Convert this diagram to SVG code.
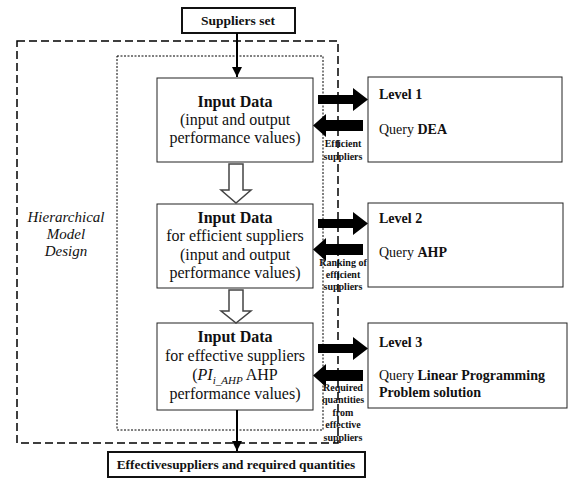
<svg xmlns="http://www.w3.org/2000/svg" width="570" height="479" viewBox="0 0 570 479">
<defs>
<style>
text{font-family:"Liberation Serif","Times New Roman",serif;fill:#111}
.box{fill:#fff;stroke:#222;stroke-width:1}
.tbox{fill:#fff;stroke:#111;stroke-width:2}
.t16{font-size:16px;text-anchor:middle}
.t14{font-size:14px}
.b{font-weight:bold}
.lbl{font-size:10px;font-weight:bold;text-anchor:middle}
.hollow{fill:#fff;stroke:#444;stroke-width:1.5}
.block{fill:#000}
.line{stroke:#000;stroke-width:2;fill:none}
</style>
<marker id="ah" viewBox="0 0 10 10" refX="10" refY="5" markerWidth="5" markerHeight="5" orient="auto" markerUnits="strokeWidth">
<path d="M0,0 L10,5 L0,10 Z" fill="#000"/>
</marker>
</defs>
<rect width="570" height="479" fill="#fff"/>

<g id="containers">
<rect x="17" y="41" width="321" height="402" fill="none" stroke="#000" stroke-width="1.5" stroke-dasharray="8,4"/>
<rect x="117" y="56" width="206" height="374" fill="none" stroke="#000" stroke-width="1" stroke-dasharray="2,1.5"/>
</g>

<g id="hierarchical-label">
<text x="66" y="222" font-size="15" font-style="italic" text-anchor="middle">Hierarchical</text>
<text x="66" y="239" font-size="15" font-style="italic" text-anchor="middle">Model</text>
<text x="66" y="256" font-size="15" font-style="italic" text-anchor="middle">Design</text>
</g>

<g id="suppliers-set">
<rect class="tbox" x="182" y="8" width="113" height="25"/>
<text x="238" y="25" font-size="13.5" class="b" text-anchor="middle">Suppliers set</text>
</g>

<g id="input1">
<rect class="box" x="157" y="78" width="156" height="84"/>
<text class="t16 b" x="235" y="107">Input Data</text>
<text class="t16" x="235" y="125">(input and output</text>
<text class="t16" x="235" y="143">performance values)</text>
</g>

<g id="input2">
<rect class="box" x="157" y="204" width="156" height="84"/>
<text class="t16 b" x="235" y="223">Input Data</text>
<text class="t16" x="235" y="241">for efficient suppliers</text>
<text class="t16" x="235" y="260">(input and output</text>
<text class="t16" x="235" y="278">performance values)</text>
</g>

<g id="input3">
<rect class="box" x="157" y="323" width="156" height="87"/>
<text class="t16 b" x="235" y="342">Input Data</text>
<text class="t16" x="235" y="361">for effective suppliers</text>
<text class="t16" x="235" y="380">(<tspan font-style="italic">PI</tspan><tspan font-style="italic" font-size="11" dy="4">i_AHP</tspan><tspan dy="-4"> AHP</tspan></text>
<text class="t16" x="235" y="399">performance values)</text>
</g>

<g id="level1">
<rect class="box" x="368" y="77" width="194" height="85"/>
<text class="t14 b" x="379" y="99">Level 1</text>
<text class="t14" x="379" y="134">Query <tspan class="b">DEA</tspan></text>
</g>

<g id="level2">
<rect class="box" x="368" y="203" width="195" height="84"/>
<text class="t14 b" x="379" y="223">Level 2</text>
<text class="t14" x="379" y="257">Query <tspan class="b">AHP</tspan></text>
</g>

<g id="level3">
<rect class="box" x="368" y="323" width="199" height="85"/>
<text class="t14 b" x="379" y="347">Level 3</text>
<text class="t14" x="379" y="380">Query <tspan class="b">Linear Programming</tspan></text>
<text class="t14 b" x="379" y="397">Problem solution</text>
</g>

<g id="final">
<rect class="tbox" x="108" y="452" width="257" height="25"/>
<text x="236" y="469" font-size="13.3" class="b" text-anchor="middle">Effectivesuppliers and required quantities</text>
</g>

<g id="connectors">
<line class="line" x1="237" y1="33" x2="237" y2="77" marker-end="url(#ah)"/>
<line class="line" x1="237" y1="410" x2="237" y2="451" marker-end="url(#ah)"/>
<path class="hollow" d="M229,164 H243 V190 H251 L236,203 L221,190 H229 Z"/>
<path class="hollow" d="M229,290 H243 V311 H251 L236,323 L221,311 H229 Z"/>
<path class="block" d="M318,95 H353 V88 L368,99.5 L353,111 V104 H318 Z"/>
<path class="block" d="M363,120 H326 V114 L313,125.5 L326,137 V131 H363 Z"/>
<path class="block" d="M318,219 H353 V212 L368,223.5 L353,235 V228 H318 Z"/>
<path class="block" d="M363,244 H326 V238 L313,249.5 L326,261 V255 H363 Z"/>
<path class="block" d="M318,344 H353 V337 L368,348.5 L353,360 V353 H318 Z"/>
<path class="block" d="M363,370 H326 V364 L313,375.5 L326,387 V381 H363 Z"/>
</g>

<g id="arrow-labels">
<text class="lbl" x="343" y="147">Efficient</text>
<text class="lbl" x="343" y="160">suppliers</text>
<text class="lbl" x="343" y="266">Ranking of</text>
<text class="lbl" x="343" y="278">efficient</text>
<text class="lbl" x="343" y="290">suppliers</text>
<text class="lbl" x="343" y="391">Required</text>
<text class="lbl" x="343" y="403">quantities</text>
<text class="lbl" x="343" y="416">from</text>
<text class="lbl" x="343" y="428">effective</text>
<text class="lbl" x="343" y="441">suppliers</text>
</g>
</svg>
